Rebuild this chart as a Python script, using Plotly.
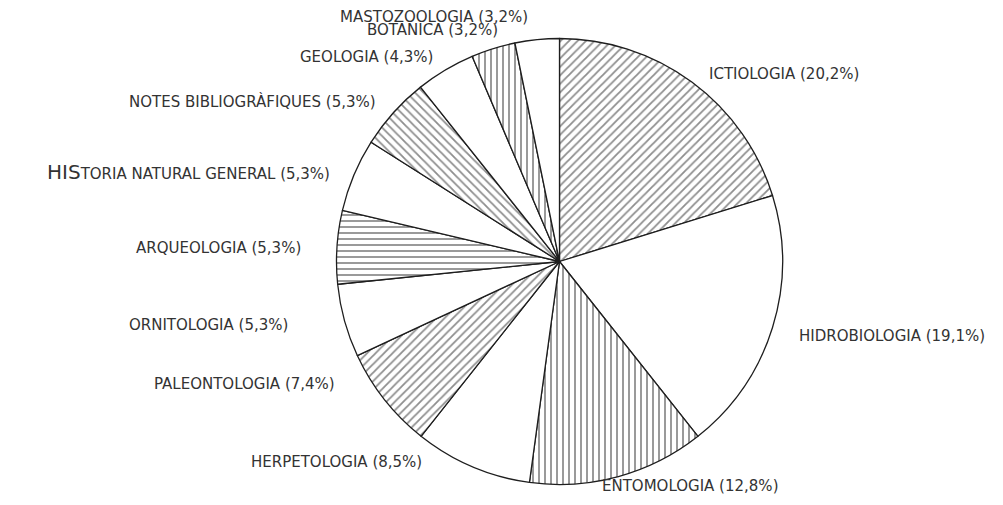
import plotly.graph_objects as go

# page window and the 8px body margin of the written page
PAGE_W, PAGE_H, M = 1003, 505, 8
W, H = PAGE_W - 2 * M, PAGE_H - 2 * M

categories = ["ICTIOLOGIA", "HIDROBIOLOGIA", "ENTOMOLOGIA", "HERPETOLOGIA",
              "PALEONTOLOGIA", "ORNITOLOGIA", "ARQUEOLOGIA",
              "HISTORIA NATURAL GENERAL", "NOTES BIBLIOGRÀFIQUES", "GEOLOGIA",
              "BOTANICA", "MASTOZOOLOGIA"]
percent = [20.2, 19.1, 12.8, 8.5, 7.4, 5.3, 5.3, 5.3, 5.3, 4.3, 3.2, 3.2]
percent_text = ["20,2", "19,1", "12,8", "8,5", "7,4", "5,3", "5,3", "5,3",
                "5,3", "4,3", "3,2", "3,2"]

# styles
hatch = ["/", "", "|", "", "/", "", "-", "", "\\", "", "|", ""]
# label layout on the page (pixel anchor, alignment)
label_pos = [(707, 74, "left"), (797, 336, "left"), (600, 486, "left"),
             (424, 462, "right"), (337, 384, "right"), (290, 325, "right"),
             (303, 248, "right"), (332, 172, "right"), (378, 102, "right"),
             (435, 57, "right"), (500, 30, "right"), (530, 17, "right")]

cx, cy, r = 559.5, 261.5, 223


def px(x):
    return (x - M) / W


def py(y):
    return 1 - (y - M) / H


fig = go.Figure(go.Pie(
    labels=categories,
    values=percent,
    sort=False,
    direction="clockwise",
    rotation=0,
    textinfo="none",
    hoverinfo="label+percent",
    showlegend=False,
    marker=dict(
        colors=["white"] * len(categories),
        line=dict(color="#1e1e1e", width=1.3),
        pattern=dict(shape=hatch, fgcolor="#1e1e1e", bgcolor="white",
                     size=6, solidity=0.3, fillmode="overlay"),
    ),
    domain=dict(x=[px(cx - r), px(cx + r)],
                y=[py(cy + r), py(cy - r)]),
))

annotations = []
for name, pt, (lx, ly, al) in zip(categories, percent_text, label_pos):
    if name.startswith("HIS"):
        shown = "<span style='font-size:20px'>HIS</span>" + name[3:]
    else:
        shown = name
    annotations.append(dict(
        x=px(lx), y=py(ly), xref="paper", yref="paper",
        text=f"{shown} ({pt}%)", showarrow=False,
        xanchor=al, yanchor="middle",
        font=dict(family="DejaVu Sans", size=15, color="#333333"),
    ))

fig.update_layout(
    width=W, height=H,
    margin=dict(l=0, r=0, t=0, b=0),
    paper_bgcolor="white", plot_bgcolor="white",
    annotations=annotations,
)

fig.write_html("out.html")
